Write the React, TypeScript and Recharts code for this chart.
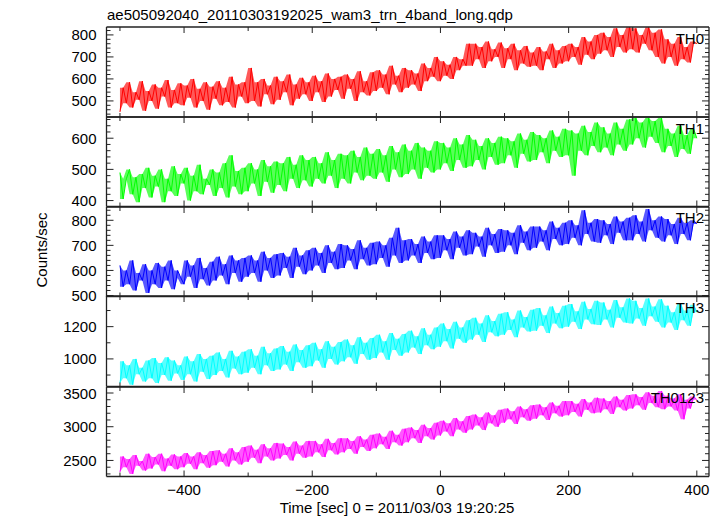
import React from "react";
import { ComposedChart, Line, Area, XAxis, YAxis } from "recharts";

// time bins [sec], 0 = 2011/03/03 19:20:25
const times = [
  -500, -495, -490, -485, -480, -475, -470, -465, -460, -455,
  -450, -445, -440, -435, -430, -425, -420, -415, -410, -405,
  -400, -395, -390, -385, -380, -375, -370, -365, -360, -355,
  -350, -345, -340, -335, -330, -325, -320, -315, -310, -305,
  -300, -295, -290, -285, -280, -275, -270, -265, -260, -255,
  -250, -245, -240, -235, -230, -225, -220, -215, -210, -205,
  -200, -195, -190, -185, -180, -175, -170, -165, -160, -155,
  -150, -145, -140, -135, -130, -125, -120, -115, -110, -105,
  -100, -95, -90, -85, -80, -75, -70, -65, -60, -55,
  -50, -45, -40, -35, -30, -25, -20, -15, -10, -5,
  0, 5, 10, 15, 20, 25, 30, 35, 40, 45,
  50, 55, 60, 65, 70, 75, 80, 85, 90, 95,
  100, 105, 110, 115, 120, 125, 130, 135, 140, 145,
  150, 155, 160, 165, 170, 175, 180, 185, 190, 195,
  200, 205, 210, 215, 220, 225, 230, 235, 240, 245,
  250, 255, 260, 265, 270, 275, 280, 285, 290, 295,
  300, 305, 310, 315, 320, 325, 330, 335, 340, 345,
  350, 355, 360, 365, 370, 375, 380, 385, 390, 395,
  400,
];

const th0 = [
  450, 560, 490, 585, 470, 540, 505, 590, 455, 545,
  500, 575, 465, 560, 520, 595, 470, 550, 490, 580,
  480, 570, 515, 600, 470, 555, 500, 585, 460, 565,
  510, 590, 480, 560, 495, 610, 470, 575, 520, 585,
  490, 650, 500, 585, 475, 600, 530, 570, 485, 610,
  505, 590, 540, 620, 480, 575, 510, 605, 530, 585,
  500, 615, 540, 590, 495, 625, 520, 600, 550, 610,
  510, 620, 555, 600, 500, 635, 540, 590, 525, 630,
  545, 640, 560, 620, 530, 660, 575, 615, 540, 650,
  560, 640, 575, 625, 545, 670, 590, 650, 610, 700,
  590, 680, 615, 665, 600, 700, 640, 690, 660, 760,
  660, 760, 690, 745, 650, 770, 680, 735, 700, 765,
  650, 740, 690, 760, 640, 730, 670, 750, 655, 720,
  660, 745, 640, 725, 690, 760, 650, 730, 670, 750,
  680, 760, 700, 745, 665, 790, 710, 770, 690, 800,
  715, 810, 730, 790, 700, 830, 745, 800, 720, 835,
  735, 830, 720, 800, 760, 835, 730, 810, 700, 825,
  670, 780, 700, 760, 660, 790, 690, 745, 675, 770,
  760,
];

const th1 = [
  490, 405, 470, 500, 420, 475, 395, 485, 440, 505,
  410, 480, 445, 500, 395, 470, 430, 510, 415, 485,
  455, 505, 400, 480, 430, 515, 420, 470, 450, 500,
  415, 490, 440, 520, 410, 545, 445, 495, 420, 505,
  430, 520, 455, 500, 415, 530, 460, 510, 425, 525,
  450, 520, 430, 540, 470, 515, 440, 545, 465, 530,
  445, 540, 470, 520, 455, 555, 480, 530, 440, 550,
  470, 545, 455, 560, 490, 540, 465, 570, 480, 550,
  470, 565, 490, 545, 460, 575, 500, 555, 475, 580,
  485, 560, 500, 585, 470, 570, 505, 560, 490, 590,
  500, 585, 520, 570, 495, 600, 530, 580, 505, 610,
  510, 595, 530, 575, 500, 600, 540, 585, 515, 605,
  520, 600, 545, 590, 505, 615, 550, 595, 525, 620,
  530, 610, 555, 600, 520, 625, 560, 605, 540, 630,
  545, 625, 480, 615, 560, 640, 545, 620, 575, 650,
  555, 635, 570, 615, 545, 650, 580, 630, 560, 660,
  580, 665, 600, 650, 570, 665, 605, 655, 585, 665,
  555, 630, 575, 615, 540, 640, 565, 610, 550, 630,
  600,
];

const th2 = [
  620, 535, 600, 545, 640, 520, 590, 560, 625, 510,
  600, 545, 630, 530, 615, 560, 640, 525, 600, 570,
  545, 640, 575, 620, 530, 650, 565, 610, 540, 635,
  560, 655, 580, 625, 545, 660, 590, 640, 555, 650,
  575, 660, 590, 640, 555, 675, 600, 650, 570, 665,
  580, 670, 610, 655, 570, 690, 615, 660, 585, 680,
  600, 690, 620, 670, 590, 700, 630, 675, 605, 705,
  610, 700, 640, 685, 605, 720, 645, 690, 620, 710,
  625, 715, 650, 700, 615, 730, 660, 770, 630, 720,
  640, 725, 660, 705, 630, 735, 670, 715, 645, 740,
  650, 740, 680, 725, 645, 755, 690, 735, 660, 760,
  665, 750, 695, 735, 655, 770, 700, 745, 670, 765,
  675, 760, 700, 750, 665, 780, 710, 755, 680, 775,
  690, 775, 715, 760, 680, 795, 725, 770, 700, 790,
  705, 800, 730, 780, 700, 840, 745, 790, 715, 805,
  710, 800, 740, 785, 705, 815, 750, 795, 720, 810,
  720, 820, 745, 795, 715, 845, 760, 800, 730, 815,
  715, 805, 740, 785, 705, 810, 745, 790, 720, 800,
  785,
];

const th3 = [
  850, 985, 880, 960, 840, 1000, 905, 945, 860, 990,
  880, 1005, 850, 975, 900, 1010, 865, 990, 910, 960,
  870, 1015, 905, 985, 860, 1030, 920, 1000, 875, 1020,
  900, 1040, 925, 1000, 885, 1050, 940, 1015, 905, 1045,
  915, 1060, 945, 1020, 905, 1075, 960, 1035, 925, 1065,
  935, 1080, 965, 1045, 925, 1090, 980, 1055, 945, 1085,
  955, 1100, 990, 1060, 945, 1110, 1000, 1075, 965, 1105,
  985, 1120, 1010, 1085, 970, 1135, 1030, 1100, 995, 1130,
  1005, 1150, 1040, 1110, 995, 1160, 1055, 1125, 1020, 1155,
  1040, 1175, 1070, 1140, 1030, 1190, 1085, 1150, 1060, 1195,
  1075, 1220, 1110, 1185, 1065, 1230, 1125, 1195, 1100, 1240,
  1120, 1255, 1150, 1220, 1105, 1270, 1165, 1235, 1140, 1280,
  1150, 1290, 1180, 1245, 1135, 1300, 1195, 1260, 1170, 1305,
  1175, 1315, 1205, 1270, 1160, 1325, 1220, 1285, 1190, 1330,
  1200, 1340, 1230, 1295, 1185, 1355, 1245, 1310, 1215, 1360,
  1210, 1350, 1245, 1305, 1195, 1365, 1255, 1320, 1225, 1375,
  1220, 1360, 1250, 1315, 1205, 1375, 1265, 1325, 1230, 1370,
  1195, 1330, 1225, 1290, 1180, 1345, 1240, 1300, 1205, 1335,
  1290,
];

const th0123 = [
  2330, 2560, 2400, 2520, 2300, 2580, 2420, 2490, 2350, 2600,
  2380, 2550, 2440, 2600, 2340, 2530, 2420, 2590, 2370, 2560,
  2400, 2610, 2450, 2560, 2370, 2620, 2460, 2580, 2390, 2640,
  2430, 2650, 2480, 2600, 2410, 2680, 2500, 2620, 2440, 2700,
  2480, 2720, 2540, 2660, 2460, 2740, 2560, 2680, 2500, 2760,
  2530, 2750, 2580, 2700, 2500, 2780, 2600, 2720, 2540, 2790,
  2560, 2790, 2620, 2740, 2550, 2820, 2650, 2760, 2590, 2830,
  2620, 2830, 2670, 2790, 2600, 2860, 2700, 2810, 2640, 2880,
  2680, 2900, 2740, 2850, 2670, 2940, 2770, 2880, 2720, 2970,
  2770, 2990, 2830, 2950, 2760, 3030, 2860, 2980, 2810, 3060,
  2870, 3090, 2930, 3050, 2860, 3130, 2960, 3080, 2910, 3160,
  2960, 3180, 3020, 3140, 2950, 3210, 3050, 3170, 3000, 3250,
  3060, 3270, 3110, 3230, 3040, 3300, 3140, 3260, 3090, 3320,
  3120, 3330, 3170, 3290, 3100, 3360, 3200, 3310, 3150, 3380,
  3170, 3380, 3220, 3340, 3150, 3410, 3250, 3360, 3200, 3430,
  3210, 3420, 3260, 3380, 3190, 3450, 3290, 3400, 3240, 3470,
  3270, 3480, 3320, 3440, 3250, 3510, 3350, 3460, 3290, 3530,
  3260, 3460, 3300, 3420, 3240, 3480, 3110, 3400, 3270, 3450,
  3400,
];

// axis ticks
const xTicks = [-500, -400, -300, -200, -100, 0, 100, 200, 300, 400];
const xLabels = [-400, -200, 0, 200, 400];

const th0Ticks = [440, 460, 480, 500, 520, 540, 560, 580, 600, 620, 640, 660, 680, 700, 720, 740, 760, 780, 800, 820];
const th0Labels = [500, 600, 700, 800];
const th1Ticks = [400, 420, 440, 460, 480, 500, 520, 540, 560, 580, 600, 620, 640, 660];
const th1Labels = [400, 500, 600];
const th2Ticks = [500, 520, 540, 560, 580, 600, 620, 640, 660, 680, 700, 720, 740, 760, 780, 800, 820, 840];
const th2Labels = [500, 600, 700, 800];
const th3Ticks = [900, 1000, 1100, 1200, 1300];
const th3Labels = [1000, 1200];
const th0123Ticks = [2300, 2400, 2500, 2600, 2700, 2800, 2900, 3000, 3100, 3200, 3300, 3400, 3500];
const th0123Labels = [2500, 3000, 3500];

const FONT = "'Liberation Sans', Arial, Helvetica, sans-serif";
const INK = "#222";
const X_DOMAIN: [number, number] = [-521, 419];
const PAD = 12;

type Panel = {
  name: string;
  values: number[];
  color: string;
  domain: [number, number];
  ticks: number[];
  labels: number[];
  top: number;
  height: number;
};

const panels: Panel[] = [
  { name: "TH0", values: th0, color: "#ff0000", domain: [427, 836], ticks: th0Ticks, labels: th0Labels, top: 27, height: 90 },
  { name: "TH1", values: th1, color: "#00ff00", domain: [381, 668], ticks: th1Ticks, labels: th1Labels, top: 117, height: 89.5 },
  { name: "TH2", values: th2, color: "#0000ff", domain: [496, 853], ticks: th2Ticks, labels: th2Labels, top: 206.5, height: 89.5 },
  { name: "TH3", values: th3, color: "#00ffff", domain: [829, 1390], ticks: th3Ticks, labels: th3Labels, top: 296, height: 90.5 },
  { name: "TH0123", values: th0123, color: "#ff00ff", domain: [2262, 3589], ticks: th0123Ticks, labels: th0123Labels, top: 386.5, height: 89.5 },
];

const fmt = (v: number) => (v < 0 ? "\u2212" + Math.abs(v) : String(v));

function LightCurve({ panel, last }: { panel: Panel; last: boolean }) {
  // band spans each sample and the next one, so the noisy trace reads as a filled strip
  const rows = times.map((t, i) => {
    const a = panel.values[i];
    const b = panel.values[Math.min(i + 1, panel.values.length - 1)];
    return { t, v: a, band: [Math.min(a, b), Math.max(a, b)] };
  });
  const bottomH = last ? 40 : 1;
  const height = PAD + panel.height + (last ? 40 : PAD);

  const leftTick = (p: any) => {
    const major = panel.labels.includes(p.payload.value);
    return (
      <g>
        <line x1={p.x} x2={p.x + (major ? 7 : 4)} y1={p.y} y2={p.y} stroke={INK} strokeWidth={1} />
        {major && (
          <text x={p.x - 10} y={p.y} textAnchor="end" dominantBaseline="central" fontSize={15} fontFamily={FONT} fill="#000">
            {p.payload.value}
          </text>
        )}
      </g>
    );
  };
  const rightTick = (p: any) => {
    const major = panel.labels.includes(p.payload.value);
    return <line x1={p.x} x2={p.x - (major ? 7 : 4)} y1={p.y} y2={p.y} stroke={INK} strokeWidth={1} />;
  };
  const topTick = (p: any) => {
    const major = xLabels.includes(p.payload.value);
    return <line x1={p.x} x2={p.x} y1={p.y} y2={p.y + (major ? 6 : 4)} stroke={INK} strokeWidth={1} />;
  };
  const bottomTick = (p: any) => {
    const major = xLabels.includes(p.payload.value);
    return (
      <g>
        <line x1={p.x} x2={p.x} y1={p.y} y2={p.y - (major ? 6 : 4)} stroke={INK} strokeWidth={1} />
        {last && major && (
          <text x={p.x} y={p.y + 13} textAnchor="middle" dominantBaseline="central" fontSize={15} fontFamily={FONT} fill="#000">
            {fmt(p.payload.value)}
          </text>
        )}
      </g>
    );
  };

  const axisLine = { stroke: INK, strokeWidth: 1.3 };

  return (
    <div style={{ position: "absolute", left: 0, top: panel.top - PAD }}>
      <ComposedChart width={723} height={height} data={rows}
        margin={{ top: PAD - 1, right: 0, bottom: last ? 0 : PAD - 1, left: 0 }}>
        <XAxis xAxisId="b" dataKey="t" type="number" domain={X_DOMAIN} allowDataOverflow ticks={xTicks} interval={0}
          orientation="bottom" height={bottomH} axisLine={axisLine} tickLine={false} tickSize={0} tickMargin={0} tick={bottomTick} />
        <XAxis xAxisId="t" dataKey="t" type="number" domain={X_DOMAIN} allowDataOverflow ticks={xTicks} interval={0}
          orientation="top" height={1} axisLine={axisLine} tickLine={false} tickSize={0} tickMargin={0} tick={topTick} />
        <YAxis yAxisId="l" type="number" domain={panel.domain} allowDataOverflow ticks={panel.ticks} interval={0}
          orientation="left" width={106.5} axisLine={axisLine} tickLine={false} tickSize={0} tickMargin={0} tick={leftTick} />
        <YAxis yAxisId="r" type="number" domain={panel.domain} allowDataOverflow ticks={panel.ticks} interval={0}
          orientation="right" width={14} axisLine={axisLine} tickLine={false} tickSize={0} tickMargin={0} tick={rightTick} />
        <Area xAxisId="b" yAxisId="l" type="linear" dataKey="band" stroke="none" fill={panel.color} fillOpacity={0.65} isAnimationActive={false} />
        <Line xAxisId="b" yAxisId="l" type="linear" dataKey="v" stroke={panel.color} strokeWidth={1} dot={false} isAnimationActive={false} />
        <Line xAxisId="t" yAxisId="r" type="linear" dataKey="v" stroke="none" dot={false} isAnimationActive={false} legendType="none" />
      </ComposedChart>
    </div>
  );
}

export default function App() {
  return (
    <div style={{ position: "absolute", left: 0, top: 0, width: 723, height: 516, background: "#fff", fontFamily: FONT }}>
      {panels.map((p, i) => (
        <LightCurve key={p.name} panel={p} last={i === panels.length - 1} />
      ))}
      <svg width={723} height={516} style={{ position: "absolute", left: 0, top: 0, pointerEvents: "none" }}>
        <text x={107} y={20} fontSize={15} fontFamily={FONT} fill="#000">
          ae505092040_20110303192025_wam3_trn_4band_long.qdp
        </text>
        {panels.map((p) => (
          <text key={p.name} x={704} y={p.top + 11} textAnchor="end" dominantBaseline="central" fontSize={15} fontFamily={FONT} fill="#000">
            {p.name}
          </text>
        ))}
        <text x={41} y={250} transform="rotate(-90 41 250)" textAnchor="middle" dominantBaseline="central" fontSize={15} fontFamily={FONT} fill="#000">
          Counts/sec
        </text>
        <text x={397} y={507} textAnchor="middle" dominantBaseline="central" fontSize={15} fontFamily={FONT} fill="#000">
          Time [sec] 0 = 2011/03/03 19:20:25
        </text>
      </svg>
    </div>
  );
}
